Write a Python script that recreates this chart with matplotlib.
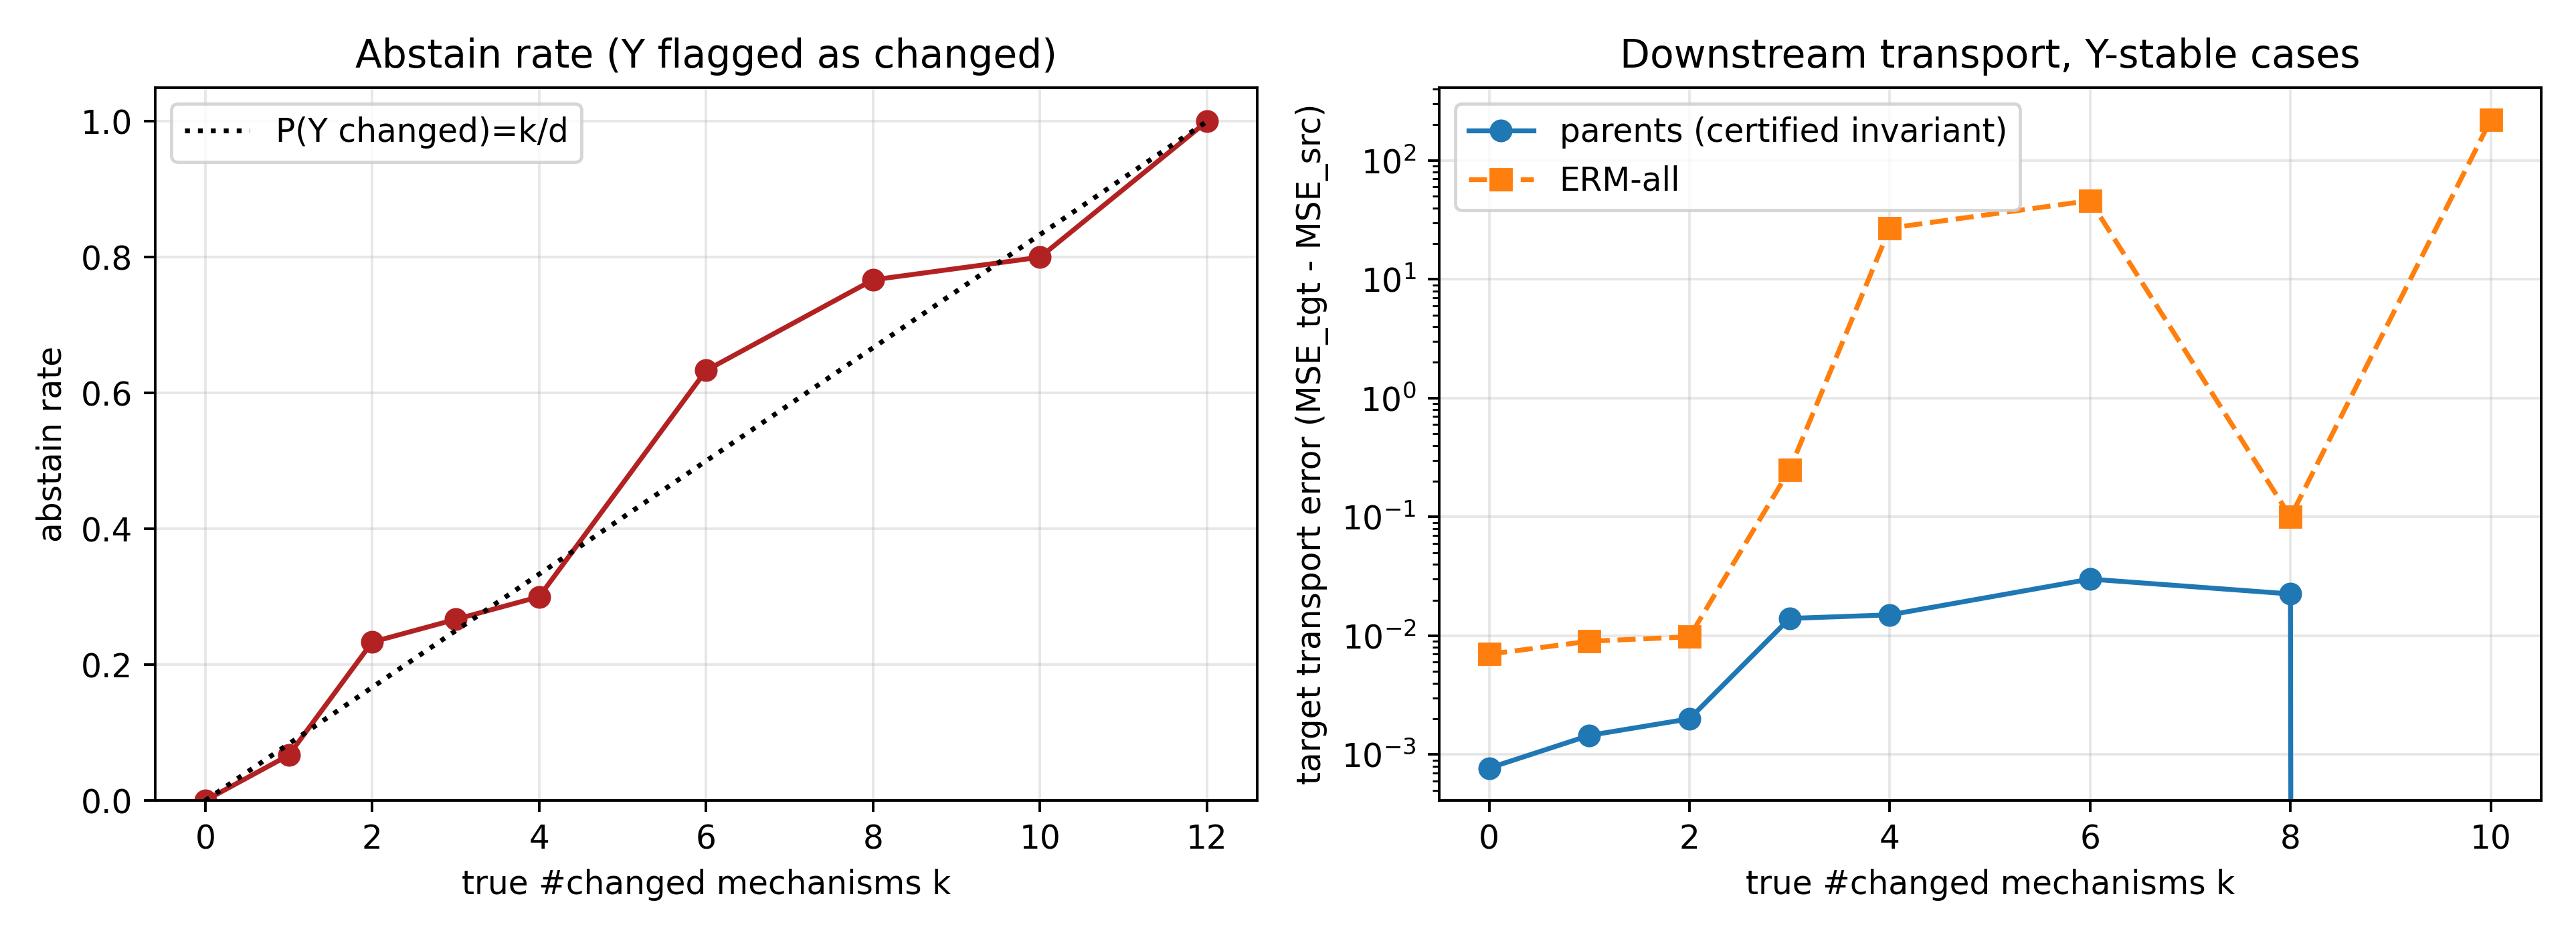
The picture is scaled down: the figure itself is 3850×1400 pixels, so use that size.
import matplotlib
matplotlib.use("Agg")
import matplotlib.pyplot as plt
import numpy as np

# Left panel data
k_left = [0, 1, 2, 3, 4, 6, 8, 10, 12]
abstain_rate = [0.0, 0.0667, 0.2333, 0.2667, 0.3, 0.6333, 0.7667, 0.8, 1.0]
d_total = 12

# Right panel data
k_right = [0, 1, 2, 3, 4, 6, 8, 10]
parents_err = [7.7e-4, 1.45e-3, 2.0e-3, 1.4e-2, 1.5e-2, 3.0e-2, 2.25e-2, -0.01]
erm_err = [7.0e-3, 9.0e-3, 9.8e-3, 0.25, 27.0, 46.0, 0.10, 220.0]

fig, axes = plt.subplots(1, 2, figsize=(11, 4))

ax = axes[0]
ax.plot(k_left, abstain_rate, "o-", color="firebrick")
kk = np.array(k_left)
ax.plot(kk, kk / d_total, "k:", label="P(Y changed)=k/d")
ax.set_ylim(0, 1.05)
ax.set_xlabel("true #changed mechanisms k")
ax.set_ylabel("abstain rate")
ax.set_title("Abstain rate (Y flagged as changed)")
ax.grid(alpha=0.3)
ax.legend()

ax = axes[1]
ax.plot(k_right, parents_err, "o-", label="parents (certified invariant)")
ax.plot(k_right, erm_err, "s--", label="ERM-all")
ax.set_yscale("log")
ax.set_xlabel("true #changed mechanisms k")
ax.set_ylabel("target transport error (MSE_tgt - MSE_src)")
ax.set_title("Downstream transport, Y-stable cases")
ax.grid(alpha=0.3)
ax.legend()

fig.tight_layout()
fig.savefig("out.png", dpi=350)
